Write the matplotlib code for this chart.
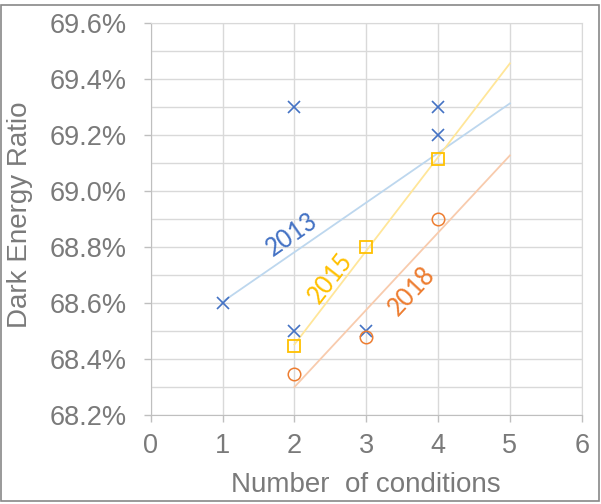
import numpy as np
import matplotlib
matplotlib.use("Agg")
import matplotlib.pyplot as plt
from matplotlib.ticker import FuncFormatter, MultipleLocator
from matplotlib.patches import Rectangle

# data (percent)
x2013 = [1, 2, 2, 3, 4, 4]
y2013 = [68.6, 69.3, 68.5, 68.5, 69.3, 69.2]
x2015 = [2, 3, 4]
y2015 = [68.445, 68.8, 69.115]
x2018 = [2, 3, 4]
y2018 = [68.348, 68.479, 68.9]
trend_end = 5
series_labels = ["2013", "2015", "2018"]

plt.rcParams['font.family'] = ['Liberation Sans', 'DejaVu Sans']

fig = plt.figure(figsize=(6.01, 5.04), dpi=100)
ax = fig.add_axes([0.2507, 0.1766, 0.968 - 0.2507, 0.9538 - 0.1766])

grid_c = '#d9d9d9'
txt_c = '#7a7a7a'

def trend(xs, ys, color):
    k, b = np.polyfit(xs, ys, 1)
    xx = np.array([min(xs), trend_end])
    ax.plot(xx, k * xx + b, color=color, lw=1.3, zorder=2)

trend(x2013, y2013, '#bdd7ee')
trend(x2015, y2015, '#ffe699')
trend(x2018, y2018, '#f8cbad')

ax.plot(x2013, y2013, ls='none', marker='x', ms=8, mew=1.2, color='#4472c4', zorder=3)
ax.plot(x2015, y2015, ls='none', marker='s', ms=9, mew=1.3, mfc='none', mec='#ffc000', zorder=3)
ax.plot(x2018, y2018, ls='none', marker='o', ms=9, mew=1.1, mfc='none', mec='#ed7d31', zorder=3)

lab_font = ['Carlito', 'Open Sans', 'DejaVu Sans']
ax.text(1.96, 68.844, series_labels[0], color='#4472c4', fontsize=20, rotation=35,
        ha='center', va='center', family=lab_font)
ax.text(2.50, 68.69, series_labels[1], color='#ffc000', fontsize=20, rotation=52,
        ha='center', va='center', family=lab_font)
ax.text(3.63, 68.641, series_labels[2], color='#ed7d31', fontsize=20, rotation=47,
        ha='center', va='center', family=lab_font)

ax.set_xlim(0, 6)
ax.set_ylim(68.2, 69.6)
ax.xaxis.set_major_locator(MultipleLocator(1))
ax.yaxis.set_major_locator(MultipleLocator(0.2))
ax.yaxis.set_minor_locator(MultipleLocator(0.1))
ax.yaxis.set_major_formatter(FuncFormatter(lambda v, p: f"{v:.1f}%"))

ax.grid(True, which='both', color=grid_c, lw=1.0, zorder=0)
ax.set_axisbelow(True)
for s in ['top', 'right']:
    ax.spines[s].set_color(grid_c)
for s in ['left', 'bottom']:
    ax.spines[s].set_color('#bfbfbf')
ax.tick_params(which='major', axis='both', colors='#bfbfbf', length=5, width=1,
               labelcolor=txt_c, labelsize=19.5)
ax.tick_params(which='minor', axis='y', length=0)
ax.tick_params(axis='y', pad=12)
ax.tick_params(axis='x', pad=8)

ax.set_xlabel("Number  of conditions", fontsize=20, color=txt_c, labelpad=9)
ax.set_ylabel("Dark Energy Ratio", fontsize=20, color=txt_c)
ax.yaxis.set_label_coords(-0.273, 0.51)

fig.patches.append(Rectangle((0.002, 0.006), 0.994, 0.985, transform=fig.transFigure,
                             fill=False, edgecolor='#888888', lw=1.2))

fig.savefig("out.png", dpi=100)
